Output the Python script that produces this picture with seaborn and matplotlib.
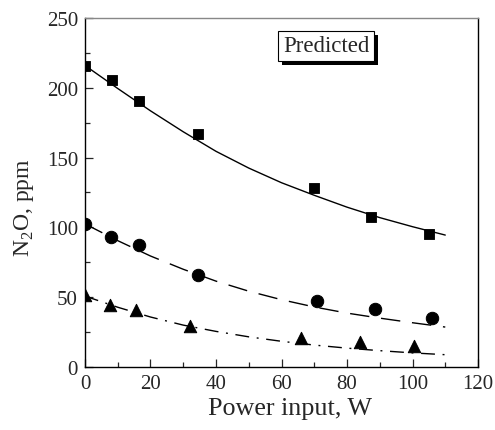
import numpy as np
import pandas as pd
import matplotlib
matplotlib.use("Agg")
import matplotlib.pyplot as plt
import matplotlib.patheffects as pe
from matplotlib.ticker import MultipleLocator
import seaborn as sns

# measured points
sq_x = [0, 8.1, 16.6, 34.4, 69.9, 87.2, 105]
sq_y = [215.4, 205.8, 190.7, 166.9, 128.2, 107.2, 95.3]
ci_x = [0, 7.9, 16.6, 34.6, 70.7, 88.5, 105.9]
ci_y = [102.4, 92.9, 87.4, 65.9, 47.5, 41.5, 35.1]
tr_x = [0, 7.6, 15.6, 32, 65.9, 84, 100.5]
tr_y = [51.5, 44.4, 41, 29.6, 20.5, 17.7, 14.8]

# predicted curves
cx = [0, 10, 20, 30, 40, 50, 60, 70, 80, 90, 100, 110]
pred_sq = [216, 199.5, 183.5, 168.5, 154.5, 142.5, 132, 123, 114.5, 107, 100.5, 94.5]
pred_ci = [102.5, 90.5, 79.5, 70, 61.5, 54.3, 48.2, 43, 38.6, 35, 31.7, 28.6]
pred_tr = [50.8, 42.8, 35.8, 30, 25.5, 21.6, 18.4, 15.7, 13.5, 11.7, 10.1, 8.8]

sns.set_style("ticks")
plt.rcParams['font.family'] = ['Liberation Serif', 'DejaVu Serif']
plt.rcParams['mathtext.fontset'] = 'custom'
plt.rcParams['mathtext.rm'] = 'Liberation Serif'

fig = plt.figure(figsize=(4.95, 4.31), dpi=100)
ax = fig.add_axes([0.1717, 0.1462, 0.794, 0.8097])

curves = pd.DataFrame({"x": cx, "sq": pred_sq, "ci": pred_ci, "tr": pred_tr})
sns.lineplot(data=curves, x="x", y="sq", ax=ax, color="black", lw=1.0)
sns.lineplot(data=curves, x="x", y="ci", ax=ax, color="black", lw=1.0,
             linestyle=(0, (14, 8.5)))
sns.lineplot(data=curves, x="x", y="tr", ax=ax, color="black", lw=1.0,
             linestyle=(0, (10, 5.5, 1.4, 5.5)))

sns.scatterplot(x=sq_x, y=sq_y, ax=ax, marker="s", s=60, color="black",
                edgecolor="black", zorder=3)
sns.scatterplot(x=ci_x, y=ci_y, ax=ax, marker="o", s=80, color="black",
                edgecolor="black", zorder=3)
sns.scatterplot(x=tr_x, y=tr_y, ax=ax, marker="^", s=80, color="black",
                edgecolor="black", zorder=3)
# markers at x=0 are cut by the axis in the original
for c in ax.collections:
    c.set_clip_on(True)
    c.set_clip_box(ax.bbox)

ax.set_xlim(0, 120)
ax.set_ylim(0, 250)
ax.xaxis.set_major_locator(MultipleLocator(20))
ax.xaxis.set_minor_locator(MultipleLocator(10))
ax.yaxis.set_major_locator(MultipleLocator(50))
ax.yaxis.set_minor_locator(MultipleLocator(25))
ax.tick_params(which="major", direction="in", length=6, width=0.9, labelsize=15, pad=5)
ax.tick_params(which="minor", direction="in", length=3.5, width=0.9)
ax.tick_params(top=False, right=False, which="both")
for s in ax.spines.values():
    s.set_visible(True)
    s.set_color("black")
    s.set_linewidth(1.0)
    s.set_zorder(5)
ax.spines["top"].set_color("#888888")

ax.set_xlabel("Power input, W", fontsize=18.8, labelpad=3)
ax.xaxis.label.set_x(0.522)
ax.set_ylabel(r"N$_2$O, ppm", fontsize=17, labelpad=8)
ax.yaxis.label.set_y(0.46)

t = ax.text(73.6, 230, "Predicted", fontsize=16.5, ha="center", va="center",
            bbox=dict(boxstyle="square,pad=0.2", fc="white", ec="black", lw=0.8))
t.get_bbox_patch().set_path_effects([
    pe.SimplePatchShadow(offset=(3, -3), shadow_rgbFace="black", alpha=1),
    pe.Normal()])

fig.savefig("out.png", dpi=100)
